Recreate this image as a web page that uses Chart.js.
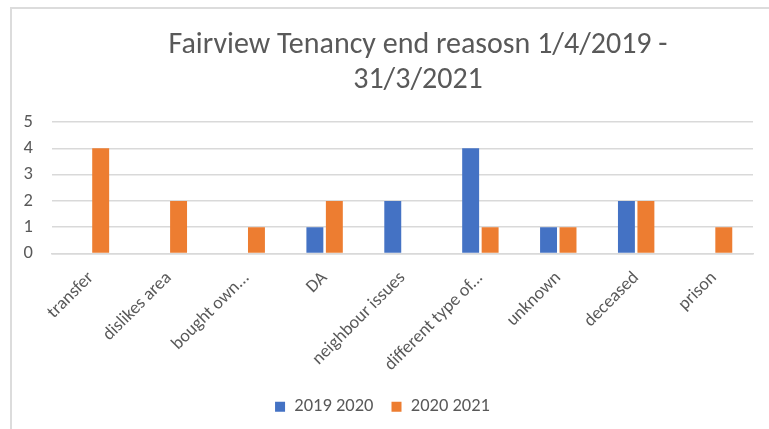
<!DOCTYPE html>
<html>
<head>
<meta charset="utf-8">
<script src="https://cdn.jsdelivr.net/npm/chart.js@4/dist/chart.umd.min.js"></script>
<style>
  html, body { margin: 0; padding: 0; background: #fff; overflow: hidden; }
  #frame {
    position: absolute; left: 10px; top: 7px; width: 780px; height: 440px;
    border-left: 2px solid #dcdcdc; border-top: 2px solid #dcdcdc;
  }
  #wrap { position: absolute; left: 12px; top: 9px; width: 757px; height: 420px; }
</style>
</head>
<body>
<div id="frame"></div>
<div id="wrap"><canvas id="chart"></canvas></div>
<script>
// tenancy end reasons, two financial years
const categories = ['transfer', 'dislikes area', 'bought own...', 'DA', 'neighbour issues',
  'different type of...', 'unknown', 'deceased', 'prison'];
const year1920 = [0, 0, 0, 1, 2, 4, 1, 2, 0];
const year2021 = [4, 2, 1, 2, 0, 1, 1, 2, 1];
const seriesNames = ['2019 2020', '2020 2021'];
const yTicks = [0, 1, 2, 3, 4, 5];
const titleLines = ['Fairview Tenancy end reasosn 1/4/2019 -', '31/3/2021'];

const grey = '#595959';
const font = "Calibri, Carlito, 'Open Sans', sans-serif";

// title is drawn by hand so it can sit a bit right of centre like the original
const titlePlugin = {
  id: 'offsetTitle',
  afterDraw(chart) {
    const ctx = chart.ctx;
    ctx.save();
    ctx.font = '30px ' + font;
    ctx.fillStyle = grey;
    ctx.textAlign = 'center';
    ctx.textBaseline = 'middle';
    titleLines.forEach((line, i) => ctx.fillText(line, 406, 36 + i * 35));
    ctx.restore();
  }
};

new Chart(document.getElementById('chart').getContext('2d'), {
  type: 'bar',
  data: {
    labels: categories,
    datasets: [
      { label: seriesNames[0], data: year1920, backgroundColor: '#4472C4' },
      { label: seriesNames[1], data: year2021, backgroundColor: '#ED7D31' }
    ]
  },
  plugins: [titlePlugin],
  options: {
    responsive: true,
    maintainAspectRatio: false,
    animation: false,
    layout: { padding: { left: 0, right: 16, top: 113, bottom: 3 } },
    datasets: { bar: { categoryPercentage: 0.5, barPercentage: 0.87 } },
    plugins: {
      title: { display: false },
      legend: {
        position: 'bottom',
        labels: { color: grey, boxWidth: 10, boxHeight: 10, padding: 18, font: { family: font, size: 18.5 } }
      },
      tooltip: { enabled: false }
    },
    scales: {
      x: {
        afterFit: axis => { axis.height = 126; },
        grid: { display: false },
        border: { color: '#d9d9d9', width: 1.5 },
        ticks: { color: grey, padding: 6, maxRotation: 45, minRotation: 45, font: { family: font, size: 18 } }
      },
      y: {
        min: 0, max: 5,
        afterFit: axis => { axis.width = 40; },
        afterBuildTicks: axis => { axis.ticks = yTicks.map(v => ({ value: v })); },
        grid: { color: '#d9d9d9', lineWidth: 1.5, drawTicks: false },
        border: { display: false },
        ticks: { color: grey, padding: 19, font: { family: font, size: 18.5 } }
      }
    }
  }
});
</script>
</body>
</html>
